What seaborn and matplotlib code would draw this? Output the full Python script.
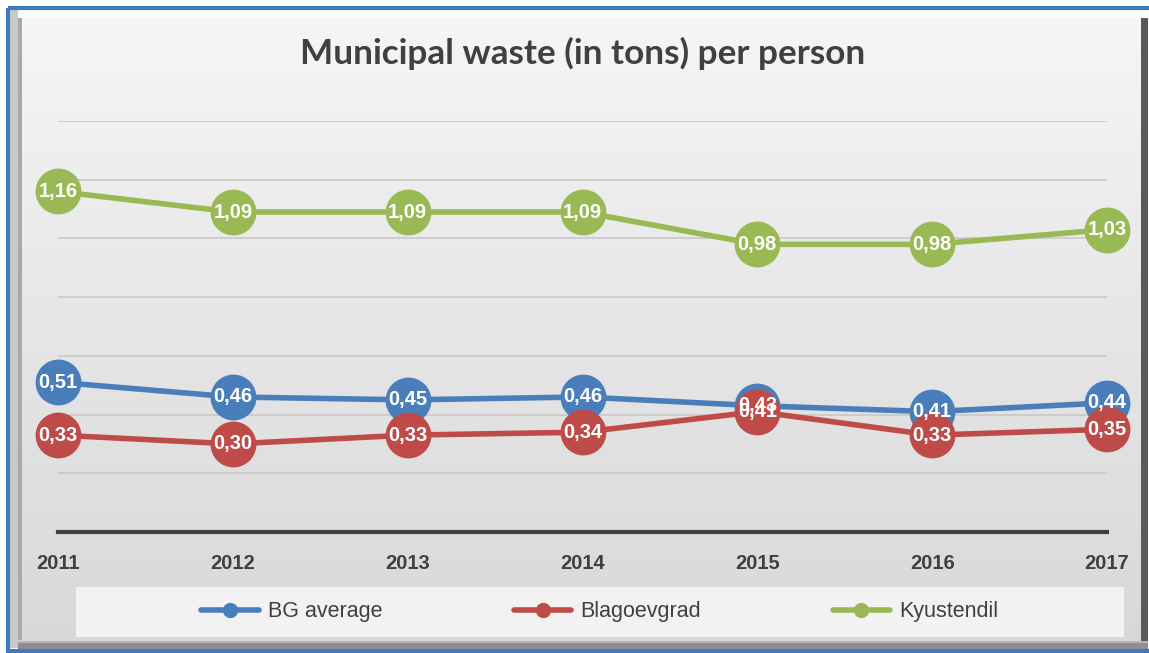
import numpy as np
import pandas as pd
import matplotlib
matplotlib.use("Agg")
import matplotlib.pyplot as plt
from matplotlib.patches import Rectangle
from matplotlib.lines import Line2D
import seaborn as sns

# Municipal waste (tons per person), 2011-2017
years = [2011, 2012, 2013, 2014, 2015, 2016, 2017]
bg_average = [0.51, 0.46, 0.45, 0.46, 0.43, 0.41, 0.44]
blagoevgrad = [0.33, 0.30, 0.33, 0.34, 0.41, 0.33, 0.35]
kyustendil = [1.16, 1.09, 1.09, 1.09, 0.98, 0.98, 1.03]
series_names = ["BG average", "Blagoevgrad", "Kyustendil"]
series_colors = ["#4a7ebb", "#be4b48", "#98b954"]
title_text = "Municipal waste (in tons) per person"

df = pd.DataFrame({
    "year": years * 3,
    "value": bg_average + blagoevgrad + kyustendil,
    "series": [n for n in series_names for _ in years],
})

sns.set_theme(style="white")
plt.rcParams["font.family"] = ["Liberation Sans", "DejaVu Sans"]

W, H = 1149, 653
fig = plt.figure(figsize=(W / 100, H / 100), dpi=100)

# ---- framed background (pixel coordinates) ----
bg = fig.add_axes([0, 0, 1, 1], zorder=-10)
bg.set_xlim(0, W)
bg.set_ylim(H, 0)
bg.axis("off")
fig.patch.set_facecolor("white")

# vertical light-grey gradient for the chart panel
grad = np.linspace(0, 1, 256)[:, None]
panel_cmap = matplotlib.colors.LinearSegmentedColormap.from_list(
    "panel", ["#f6f6f6", "#e6e6e6", "#d8d8d8"])
bg.imshow(grad, cmap=panel_cmap, aspect="auto",
          extent=(10, 1146, 648, 12), zorder=0, interpolation="bicubic")
# bevel: highlight top/left, shadow right/bottom
bg.add_patch(Rectangle((10, 10), 1136, 8, color="#fbfbfb", zorder=1, lw=0))
bg.add_patch(Rectangle((10, 10), 8, 638, color="#c9c9c9", zorder=1, lw=0))
bg.add_patch(Rectangle((18, 18), 4, 622, color="#a9a9a9", zorder=1, lw=0))
bg.add_patch(Rectangle((1141, 18), 7, 632, color="#5a5a5a", zorder=1, lw=0))
bg.add_patch(Rectangle((18, 641), 1130, 8, color="#8f8f8f", zorder=1, lw=0))
bg.add_patch(Rectangle((18, 641), 1130, 2, color="#b5b5b5", zorder=1, lw=0))
# blue outer border
bg.add_patch(Rectangle((8, 8), 1150, 643, fill=False, ec="#3c7bc0",
                       lw=3, zorder=2))
# legend panel
bg.add_patch(Rectangle((76, 587), 1048, 50, color="#f2f2f2", zorder=3, lw=0))

# ---- title ----
fig.text(583 / W, 1 - 53 / H, title_text, ha="center", va="center",
         fontsize=25.3, fontweight="bold", color="#404040",
         family=["Lato", "DejaVu Sans"])

# ---- plot ----
ax = fig.add_axes([58 / W, 1 - 532 / H, (1107 - 58) / W, (532 - 121) / H])
ax.set_facecolor("none")
sns.lineplot(data=df, x="year", y="value", hue="series",
             hue_order=series_names, palette=series_colors,
             marker="o", markersize=33, markeredgewidth=0,
             linewidth=4, ax=ax, legend=False, clip_on=False, zorder=3)

ax.set_xlim(years[0], years[-1])
ax.set_ylim(0, 1.4)
ax.set_yticks(np.arange(0.2, 1.41, 0.2))
ax.yaxis.grid(True, color="#c6c6c6", linewidth=1.1)
ax.set_yticklabels([])
ax.tick_params(axis="y", length=0)
for s in ["left", "right", "top"]:
    ax.spines[s].set_visible(False)
ax.spines["bottom"].set_color("#404040")
ax.spines["bottom"].set_linewidth(3)
ax.set_xticks(years)
ax.set_xticklabels([str(y) for y in years])
ax.tick_params(axis="x", length=0, pad=16, labelsize=14.5, labelcolor="#404040")
for lab in ax.get_xticklabels():
    lab.set_fontweight("bold")
ax.set_xlabel("")
ax.set_ylabel("")

# value labels inside markers
for vals in [bg_average, blagoevgrad, kyustendil]:
    for x, v in zip(years, vals):
        ax.text(x, v, f"{v:.2f}".replace(".", ","), ha="center", va="center",
                color="white", fontsize=14.5, fontweight="bold", zorder=10,
                clip_on=False)

# ---- legend ----
handles = [Line2D([0], [0], color=c, lw=4, marker="o", markersize=11,
                  markeredgewidth=0, solid_capstyle="round")
           for c in series_colors]
fig.legend(handles, series_names, loc="center", ncol=3,
           bbox_to_anchor=(600 / W, 1 - 612 / H), frameon=False,
           fontsize=15.5, labelcolor="#404040", handlelength=2.65,
           handletextpad=0.45, columnspacing=6.1)

fig.savefig("out.png", dpi=100)
